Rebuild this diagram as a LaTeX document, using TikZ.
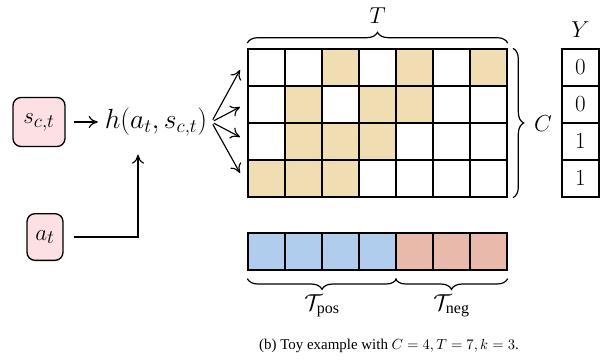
\documentclass[tikz,border=0pt]{standalone}
\usepackage[no-math]{fontspec}
\setmainfont{Liberation Serif}
\usepackage{amsmath}
\usepackage{tikz}
\usetikzlibrary{decorations.pathreplacing, arrows.meta, calc}
\definecolor{SoftPink}{RGB}{252, 224, 228}
\definecolor{SoftTan}{RGB}{240, 222, 178}
\definecolor{SoftBlue}{RGB}{177, 205, 238}
\definecolor{SoftRed}{RGB}{233, 186, 172}
\colorlet{fill0}{white}
\colorlet{fill1}{SoftTan}

\begin{document}
\begin{tikzpicture}[
        x = 0.75pt, y = -0.75pt,
        inbox/.style = {
            draw,
            fill = SoftPink,
            rounded corners = 6pt,
            line width = 1pt,
            inner sep = 2pt,
            font = \fontsize{19}{23}\selectfont
        },
        cell/.style = {
            draw,
            line width = 1pt,
            minimum size = 27.75pt,
            inner sep = 0pt,
            font = \LARGE
        },
        arr/.style = {
            -{To[length = 2.4mm, width = 3.2mm]},
            line width = 0.85pt
        },
        brc/.style = {
            decorate,
            decoration = {brace, amplitude = 8pt, raise = 4pt},
            line width = 0.9pt
        },
        lab/.style = {
            font = \LARGE,
            inner sep = 0pt
        }
    ]
        \useasboundingbox (0,0) rectangle (605,362);

        % inputs and the score function
        \node[inbox, minimum width = 39pt, minimum height = 36.75pt] (sbox) at (39,122) {$s_{c,t}$};
        \node[inbox, minimum width = 27pt, minimum height = 35pt] (abox) at (45,237) {$a_t$};
        \node[lab, inner sep = 3pt, font = \fontsize{19.5}{23}\selectfont] (hnode) at (156,122) {$h(a_t, s_{c,t})$};

        \draw[arr, shorten < = 6pt, shorten > = 2pt] (sbox) -- (hnode);
        \draw[arr, shorten < = 7.5pt, shorten > = 10.5pt] (abox.east) -| ([xshift = -13.5pt]hnode.south);

        % C x T grid
        \foreach \row [count = \r] in {{0,0,1,0,1,0,1}, {0,1,0,1,1,0,0}, {0,1,1,1,0,0,0}, {1,1,1,0,0,0,0}}
            \foreach \v [count = \c] in \row
                \node[cell, fill = fill\v] (g-\r-\c) at ({248 + 37*(\c - 0.5)}, {49 + 37*(\r - 0.5)}) {};

        \foreach \y [count = \r] in {70, 107, 137, 173} {
            \coordinate (fan-\r) at (240,\y);
            \draw[arr, shorten < = 2pt] (hnode.east) -- (fan-\r);
        }

        \draw[brc] (g-1-1.north west) -- (g-1-7.north east);
        \node[lab] (tlab) at (377.5,16) {$T$};
        \draw[brc] (g-1-7.north east) -- (g-4-7.south east);
        \node[lab] (clab) at (543,124) {$C$};

        % labels
        \node[lab] (ylab) at (580.5,30) {$Y$};
        \foreach \v [count = \r] in {0,0,1,1}
            \node[cell] (y-\r) at (580.5, {49 + 37*(\r - 0.5)}) {$\v$};

        % positive / negative split
        \foreach \c in {1,...,7} {
            \ifnum\c<5 \colorlet{barfill}{SoftBlue}\else \colorlet{barfill}{SoftRed}\fi
            \node[cell, fill = barfill] (b-\c) at ({248 + 37*(\c - 0.5)}, 251.5) {};
        }
        \draw[brc, decoration = {mirror, raise = 6pt}] (b-1.south west) -- (b-4.south east);
        \draw[brc, decoration = {mirror, raise = 6pt}] (b-5.south west) -- (b-7.south east);
        \node[lab] (pos) at (322,306) {$\mathcal{T}_{\text{pos}}$};
        \node[lab] (neg) at (451.5,306) {$\mathcal{T}_{\text{neg}}$};

        \node[inner sep = 0pt, font = \fontsize{11.2}{13.5}\selectfont] (cap) at (389,346) {(b) Toy example with $C = 4, T = 7, k = 3$.};
    \end{tikzpicture}
\end{document}
